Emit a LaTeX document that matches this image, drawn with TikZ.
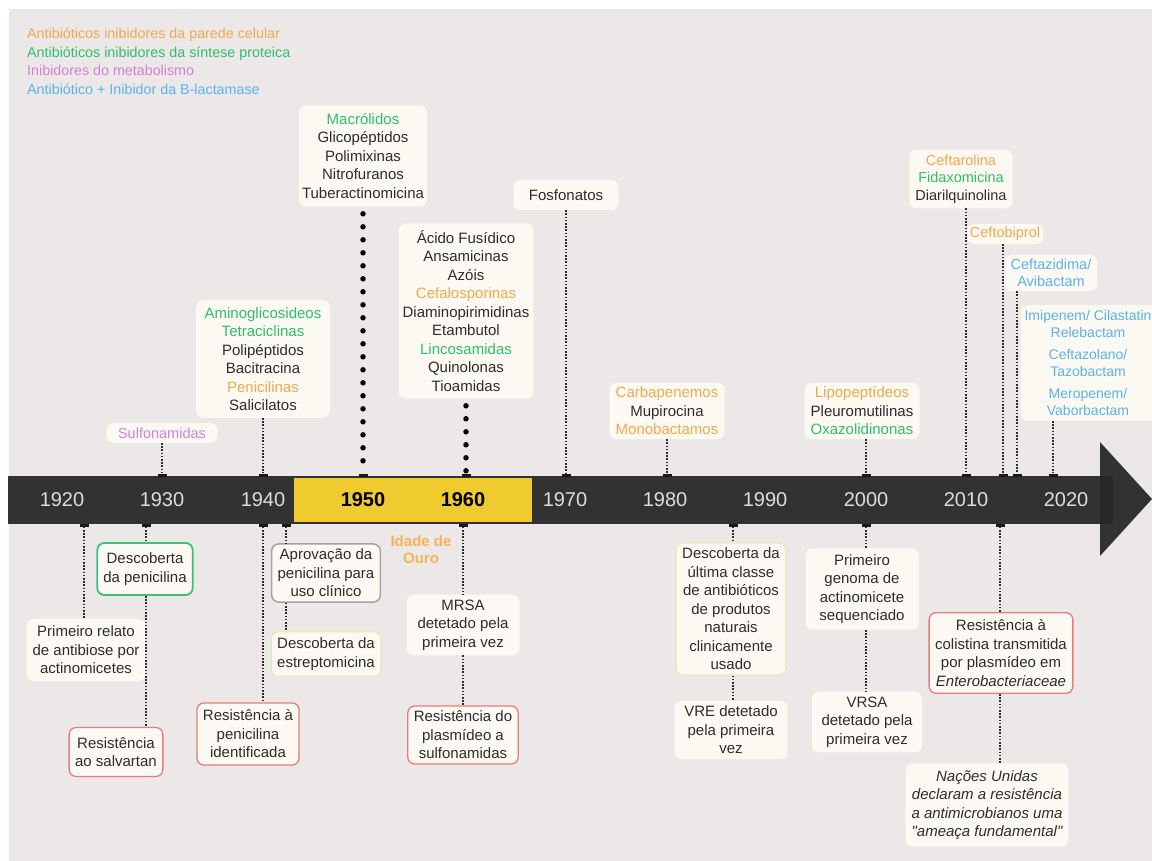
\documentclass[tikz,border=0pt]{standalone}
\usepackage{fontspec}
\setmainfont{Liberation Sans}
\newfontfamily\rawsans[Ligatures=ResetAll]{Liberation Sans}
\usetikzlibrary{positioning}
\definecolor{bgc}{HTML}{ECE8E8}
\definecolor{cream}{HTML}{FCF9F2}
\definecolor{bandc}{HTML}{333232}
\definecolor{gold}{HTML}{EFCB30}
\definecolor{yearc}{HTML}{DEDCDC}
\definecolor{ink}{HTML}{2E2C2C}
\definecolor{cwall}{HTML}{EDAA4F}
\definecolor{cprot}{HTML}{2FBD6E}
\definecolor{cmeta}{HTML}{D47FD6}
\definecolor{cbeta}{HTML}{5AB3E8}
\definecolor{ouroc}{HTML}{F2B35A}
\definecolor{redb}{HTML}{E47D7D}
\definecolor{greenb}{HTML}{3CC07A}
\definecolor{grayb}{HTML}{A3A3A3}
\definecolor{limeb}{HTML}{E0EDBE}

\begin{document}
\begin{tikzpicture}[x=1pt, y=-1pt,
  box/.style={fill=cream, rounded corners=7pt, inner xsep=6pt, inner ysep=7pt, align=center, text=ink, font=\fontsize{15}{18.5}\selectfont},
  sbox/.style={box, inner ysep=5pt, font=\fontsize{14.5}{17.5}\selectfont},
  redbox/.style={box, draw=redb, line width=1.3pt},
  grnbox/.style={box, draw=greenb, line width=1.8pt},
  graybox/.style={box, draw=grayb, line width=1.5pt},
  limebox/.style={box, draw=limeb, line width=1.3pt},
  link/.style={draw=ink, line width=1.6pt, dash pattern=on 1.6pt off 1.6pt},
  bigdots/.style={draw=black, line width=5.5pt, line cap=round, dash pattern=on 0pt off 13pt},
  tick/.style={fill=black!90, minimum width=9pt, minimum height=3pt, inner sep=0pt},
  year/.style={text=yearc, font=\fontsize{20}{20}\selectfont},
  gyear/.style={text=black, font=\fontsize{20}{20}\selectfont\bfseries}]
\useasboundingbox (0,0) rectangle (1152,861);
\fill[white] (0,0) rectangle (1152,861);
\fill[bgc] (9,9) rectangle (1152,861);
% legend
\node[anchor=north west, inner sep=0pt, align=left, font=\fontsize{14.3}{18.5}\selectfont] (legend) at (27,28)
  {\textcolor{cwall}{Antibióticos inibidores da parede celular}\\
   \textcolor{cprot}{Antibióticos inibidores da síntese proteica}\\
   \textcolor{cmeta}{Inibidores do metabolismo}\\
   \textcolor{cbeta}{Antibiótico + Inibidor da B-lactamase}};
% the time band
\node[fill=bandc, minimum width=1105pt, minimum height=48pt, inner sep=0pt] (band) at (560.5,500) {};
\fill[bandc] (1100,442) -- (1152,499) -- (1100,556) -- cycle;
\fill[bandc!80!black] (1100,476) rectangle (1113,524);
\node[fill=gold, minimum width=238pt, minimum height=44pt, inner sep=0pt] (golden) at (413,500) {};
\foreach \yr/\xx in {1920/62, 1930/162, 1940/263, 1970/565, 1980/665, 1990/765, 2000/866, 2010/966, 2020/1066}
  \node[year] (y\yr) at (\xx,500) {\yr};
\node[gyear] (y1950) at (363,500) {1950};
\node[gyear] (y1960) at (463,500) {1960};
\node[text=ouroc, font=\fontsize{15}{17}\selectfont\bfseries, align=center] (ouro) at (421,550) {Idade de\\Ouro};
% ticks on the band
\foreach \n/\xx in {sul/162, ami/263, mac/363, aci/466, fos/566, car/667, lip/866, cta/966, ctb/1003, ctz/1017, imi/1053}
  \node[tick] (u\n) at (\xx,475) {};
\foreach \n/\xx in {pri/84, pen/146, res/263, apr/286, mrs/463, ult/733, gen/866, col/1000}
  \node[tick] (d\n) at (\xx,525) {};
% classes above the band
\node[sbox, inner ysep=4.5pt, minimum width=111pt] (sulfa) at (162,433) {\textcolor{cmeta}{Sulfonamidas}};
\node[box, minimum width=134pt] (amino) at (263,359) {\textcolor{cprot}{Aminoglicosideos}\\\textcolor{cprot}{Tetraciclinas}\\Polipéptidos\\Bacitracina\\\textcolor{cwall}{Penicilinas}\\Salicilatos};
\node[box, inner xsep=3pt, inner ysep=8pt] (macro) at (363,156) {\textcolor{cprot}{Macrólidos}\\Glicopéptidos\\Polimixinas\\Nitrofuranos\\Tuberactinomicina};
\node[box, inner xsep=4pt] (acido) at (466,311) {Ácido Fusídico\\Ansamicinas\\Azóis\\\textcolor{cwall}{Cefalosporinas}\\Diaminopirimidinas\\Etambutol\\\textcolor{cprot}{Lincosamidas}\\Quinolonas\\Tioamidas};
\node[box, minimum width=105pt, minimum height=30pt] (fosfo) at (566,195) {Fosfonatos};
\node[box, inner ysep=4pt, minimum width=115pt] (carba) at (667,411) {\textcolor{cwall}{Carbapenemos}\\Mupirocina\\\textcolor{cwall}{Monobactamos}};
\node[box, inner ysep=4pt, minimum width=115pt] (lipo) at (862,411) {\textcolor{cwall}{Lipopeptídeos}\\Pleuromutilinas\\\textcolor{cprot}{Oxazolidinonas}};
\node[sbox, minimum width=88pt] (cefta) at (961,179) {\textcolor{cwall}{Ceftarolina}\\\textcolor{cprot}{Fidaxomicina}\\Diarilquinolina};
\node[sbox, inner xsep=3pt, inner ysep=3pt] (ceftob) at (1005,234) {\textcolor{cwall}{Ceftobiprol}};
\node[sbox, text=cbeta, inner ysep=4pt] (ceftaz) at (1051,273) {Ceftazidima/\\Avibactam};
\node[sbox, text=cbeta, inner xsep=4pt, font=\fontsize{14}{17.5}\selectfont] (imi) at (1088,363) {Imipenem/ Cilastatin\\Relebactam\\[4pt]Ceftazolano/\\Tazobactam\\[4pt]Meropenem/\\Vaborbactam};
% links above the band
\draw[link] (sulfa.south -| usul) -- (usul);
\draw[link] (amino.south -| uami) -- (uami);
\draw[bigdots] ([yshift=-7pt]macro.south -| umac) -- (umac);
\draw[bigdots] ([yshift=-7pt]acido.south -| uaci) -- (uaci);
\draw[link] (fosfo.south -| ufos) -- (ufos);
\draw[link] (carba.south -| ucar) -- (ucar);
\draw[link] (lipo.south -| ulip) -- (ulip);
\draw[link] (cefta.south -| ucta) -- (ucta);
\draw[link] (ceftob.south -| uctb) -- (uctb);
\draw[link] (ceftaz.south -| uctz) -- (uctz);
\draw[link] (imi.south -| uimi) -- (uimi);
% events below the band
\node[box] (primeiro) at (86,650) {Primeiro relato\\de antibiose por\\actinomicetes};
\node[grnbox, minimum height=52pt] (descpen) at (145,569) {Descoberta\\da penicilina};
\node[redbox, minimum height=49pt] (salv) at (116,752) {Resistência\\ao salvartan};
\node[redbox] (respen) at (248,734) {Resistência à\\penicilina\\identificada};
\node[graybox, inner ysep=5pt] (aprov) at (326,573) {Aprovação da\\penicilina para\\uso clínico};
\node[limebox, inner ysep=6pt] (estrep) at (326,654) {Descoberta da\\estreptomicina};
\node[box, inner ysep=5pt, minimum width=113pt] (mrsa) at (463,625) {MRSA\\detetado pela\\primeira vez};
\node[redbox, inner ysep=5pt] (resplas) at (463,735) {Resistência do\\plasmídeo a\\sulfonamidas};
\node[limebox, inner ysep=5pt] (ultima) at (731,609) {Descoberta da\\última classe\\de antibióticos\\de produtos\\naturais\\clinicamente\\usado};
\node[box, inner ysep=5pt, minimum width=113pt] (vre) at (731,730) {VRE detetado\\pela primeira\\vez};
\node[box, inner ysep=6pt, minimum width=113pt] (genoma) at (862,589) {Primeiro\\genoma de\\actinomicete\\sequenciado};
\node[box, inner ysep=5pt, minimum width=110pt] (vrsa) at (867,722) {VRSA\\detetado pela\\primeira vez};
\node[redbox] (colis) at (1001,653) {Resistência à\\colistina transmitida\\por plasmídeo em\\\textit{Enterobacteriaceae}};
\node[box, font=\fontsize{15}{18.5}\selectfont\rawsans\itshape] (nacoes) at (987,805) {Nações Unidas\\declaram a resistência\\a antimicrobianos uma\\"ameaça fundamental"};
% links below the band
\draw[link] (dpri) -- (primeiro.north -| dpri);
\draw[link] (dpen) -- (descpen.north -| dpen);
\draw[link] (descpen.south -| dpen) -- (salv.north -| dpen);
\draw[link] (dres) -- (respen.north -| dres);
\draw[link] (dapr) -- (aprov.north -| dapr);
\draw[link] (aprov.south -| dapr) -- (estrep.north -| dapr);
\draw[link] (dmrs) -- (mrsa.north -| dmrs);
\draw[link] (mrsa.south -| dmrs) -- (resplas.north -| dmrs);
\draw[link] (dult) -- (ultima.north -| dult);
\draw[link] (ultima.south -| dult) -- (vre.north -| dult);
\draw[link] (dgen) -- (genoma.north -| dgen);
\draw[link] (genoma.south -| dgen) -- (vrsa.north -| dgen);
\draw[link] (dcol) -- (colis.north -| dcol);
\draw[link] (colis.south -| dcol) -- (nacoes.north -| dcol);
\end{tikzpicture}
\end{document}
